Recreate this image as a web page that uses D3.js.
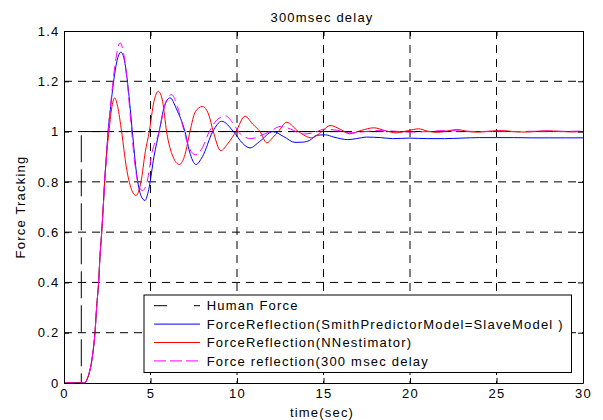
<!DOCTYPE html>
<meta charset="utf-8">
<style>
body { margin: 0; background: #fff; }
svg text {
  font-family: "Liberation Sans", Arial, sans-serif;
  font-size: 13px;
  letter-spacing: 1.2px;
  fill: #000;
}
.axis path, .axis line { stroke: #000; fill: none; }
.grid line { stroke: #000; stroke-dasharray: 8,6; }
</style>
<body>
<script src="https://cdn.jsdelivr.net/npm/d3@7"></script>
<script>

// tick labels
var xTicks = [0, 5, 10, 15, 20, 25, 30];
var yTicks = [0, 0.2, 0.4, 0.6, 0.8, 1, 1.2, 1.4];
var yTickLabels = ["0", "0.2", "0.4", "0.6", "0.8", "1", "1.2", "1.4"];

var seriesNames = ["Human Force",
  "ForceReflection(SmithPredictorModel=SlaveModel )",
  "ForceReflection(NNestimator)",
  "Force reflection(300 msec delay"];

// Human Force (step at 1 s)
var humanT = [0, 1, 1, 30];
var humanF = [0, 0, 1, 1];

// ForceReflection(SmithPredictorModel=SlaveModel)
var smithT = [0, 1.2, 1.3, 1.45, 1.64, 1.79, 1.89, 2.0, 2.08, 2.18, 2.27, 2.35, 2.45, 2.55,
  2.7, 2.85, 3.0, 3.29, 3.5, 3.7, 3.95, 4.2, 4.45, 4.68, 4.9, 5.2, 5.5, 5.8, 6.13,
  6.5, 6.99, 7.3, 7.63, 8.0, 8.6, 9.11, 9.8, 10.3, 10.75, 11.3, 12.08, 12.7, 13.35,
  13.8, 14.2, 14.6, 15.1, 15.6, 16.4, 16.9, 17.5, 18.3, 19.0, 20, 21, 22, 23, 24,
  25, 26, 27, 28, 29, 30];
var smithF = [0, 0, 0.01, 0.038, 0.105, 0.2, 0.304, 0.4, 0.503, 0.6, 0.702, 0.802, 0.9, 1.0,
  1.1, 1.19, 1.26, 1.316, 1.28, 1.18, 1.0, 0.83, 0.745, 0.726, 0.77, 0.9, 1.0, 1.1, 1.134,
  1.09, 1.0, 0.91, 0.869, 0.9, 1.0, 1.041, 1.0, 0.955, 0.935, 0.96, 1.0, 0.98, 0.957,
  0.958, 0.965, 0.985, 0.987, 0.978, 0.968, 0.972, 0.978, 0.976, 0.972, 0.974, 0.972, 0.972, 0.974, 0.976,
  0.976, 0.976, 0.975, 0.975, 0.975, 0.975];

// ForceReflection(NNestimator)
var nnT = [0, 1.2, 1.3, 1.45, 1.64, 1.79, 1.89, 2.0, 2.08, 2.18, 2.27, 2.35, 2.45, 2.6,
  2.75, 2.93, 3.1, 3.33, 3.6, 3.9, 4.16, 4.45, 4.7, 4.93, 5.2, 5.45, 5.7, 5.93, 6.3,
  6.67, 7.0, 7.28, 7.6, 8.0, 8.35, 8.63, 9.06, 9.5, 9.94, 10.46, 10.9, 11.33, 11.72,
  12.05, 12.39, 12.87, 13.55, 14.32, 14.9, 15.38, 16.0, 16.5, 17.2, 17.9, 18.6, 19.2,
  19.9, 20.5, 21.0, 21.6, 22.2, 22.7, 23.4, 24.0, 24.7, 25.3, 26.0, 26.6, 27.3, 28.0,
  28.8, 29.4, 30];
var nnF = [0, 0, 0.01, 0.038, 0.105, 0.2, 0.304, 0.4, 0.503, 0.6, 0.702, 0.802, 0.9, 1.0,
  1.09, 1.134, 1.10, 1.0, 0.86, 0.77, 0.746, 0.80, 0.92, 1.0, 1.12, 1.16, 1.12, 1.0, 0.9,
  0.869, 0.91, 1.0, 1.08, 1.10, 1.07, 1.0, 0.924, 0.955, 1.0, 1.061, 1.03, 1.0, 0.955,
  0.975, 1.0, 1.037, 1.0, 0.975, 1.0, 1.024, 1.008, 0.991, 1.005, 1.015, 1.003, 0.995,
  1.004, 1.011, 1.002, 0.997, 1.003, 1.008, 1.0, 0.998, 1.002, 1.004, 1.0, 0.998, 1.001, 1.003,
  1.0, 0.999, 1.0];

// Force reflection (300 msec delay)
var delayT = [0, 1.2, 1.3, 1.45, 1.64, 1.79, 1.89, 2.0, 2.08, 2.18, 2.27, 2.35, 2.45, 2.55,
  2.7, 2.85, 3.0, 3.24, 3.45, 3.65, 3.85, 4.05, 4.3, 4.55, 4.8, 5.1, 5.5, 5.85, 6.22,
  6.55, 6.95, 7.2, 7.6, 7.95, 8.4, 8.9, 9.35, 9.8, 10.2, 10.8, 11.4, 11.9, 12.5, 13.1,
  13.8, 14.4, 15.1, 15.8, 16.6, 17.4, 18.2, 19, 20, 21, 22, 23, 24, 25, 26, 27, 28, 29, 30];
var delayF = [0, 0, 0.01, 0.038, 0.105, 0.2, 0.304, 0.4, 0.503, 0.6, 0.702, 0.802, 0.9, 1.0,
  1.11, 1.21, 1.29, 1.353, 1.31, 1.2, 1.05, 0.9, 0.79, 0.765, 0.8, 0.92, 1.0, 1.11, 1.147,
  1.1, 1.0, 0.94, 0.908, 0.93, 1.0, 1.05, 1.062, 1.03, 0.99, 0.972, 0.985, 1.0, 1.02, 1.01,
  0.99, 0.995, 1.01, 1.005, 0.995, 1.0, 1.004, 1.002, 0.998, 1.0, 1.004, 1.002, 1.0, 1.002, 1.0, 1.001, 1.002, 1.001, 1.002];

function zip(ts, vs) {
  return ts.map(function(t, i) { return {t: t, v: vs[i]}; });
}

var series = [
  {name: seriesNames[0], data: zip(humanT, humanF), color: "#000", dash: "27,7", keyDash: "13,27", curve: d3.curveLinear},
  {name: seriesNames[1], data: zip(smithT, smithF), color: "#0000ff", dash: null, keyDash: null, curve: d3.curveMonotoneX},
  {name: seriesNames[2], data: zip(nnT, nnF), color: "#ff0000", dash: null, keyDash: null, curve: d3.curveMonotoneX},
  {name: seriesNames[3], data: zip(delayT, delayF), color: "#ff00ff", dash: "10,5", keyDash: "12,4", curve: d3.curveMonotoneX}
];

var margin = {top: 31, right: 20, bottom: 37, left: 64},
    width = 603 - margin.left - margin.right,
    height = 420 - margin.top - margin.bottom;

var x = d3.scaleLinear().domain([0, 30]).range([0, width]);
var y = d3.scaleLinear().domain([0, 1.4]).range([height, 0]);

var svg = d3.select("body").append("svg")
    .attr("width", 603)
    .attr("height", 420)
  .append("g")
    .attr("transform", "translate(" + margin.left + "," + margin.top + ")");

// grid
var grid = svg.append("g").attr("class", "grid");
grid.selectAll(".gx")
    .data(xTicks.slice(1, -1))
  .enter().append("line")
    .attr("x1", function(d) { return x(d); })
    .attr("x2", function(d) { return x(d); })
    .attr("y1", 0)
    .attr("y2", height);
grid.selectAll(".gy")
    .data(yTicks.slice(1, -1))
  .enter().append("line")
    .attr("x1", 0)
    .attr("x2", width)
    .attr("y1", function(d) { return y(d); })
    .attr("y2", function(d) { return y(d); });

// curves
series.forEach(function(s) {
  var line = d3.line()
      .x(function(d) { return x(d.t); })
      .y(function(d) { return y(d.v); })
      .curve(s.curve);
  svg.append("path")
      .datum(s.data)
      .attr("fill", "none")
      .attr("stroke", s.color)
      .attr("stroke-width", 1)
      .attr("stroke-dasharray", s.dash)
      .attr("d", line);
});

// axes, ticks pointing inward on all sides
svg.append("g")
    .attr("class", "axis")
    .attr("transform", "translate(0," + height + ")")
    .call(d3.axisBottom(x).tickValues(xTicks).tickSizeInner(-5).tickSizeOuter(0).tickPadding(6));
svg.append("g")
    .attr("class", "axis")
    .call(d3.axisTop(x).tickValues(xTicks).tickSizeInner(-5).tickSizeOuter(0).tickFormat(""));
svg.append("g")
    .attr("class", "axis")
    .call(d3.axisLeft(y).tickValues(yTicks).tickSizeInner(-5).tickSizeOuter(0).tickPadding(4.5)
      .tickFormat(function(d, i) { return yTickLabels[i]; }));
svg.append("g")
    .attr("class", "axis")
    .attr("transform", "translate(" + width + ",0)")
    .call(d3.axisRight(y).tickValues(yTicks).tickSizeInner(-5).tickSizeOuter(0).tickFormat(""));

svg.selectAll(".axis text")
    .attr("font-family", null)
    .attr("font-size", null);

// title and axis labels
svg.append("text")
    .attr("x", 322 - margin.left)
    .attr("y", 22 - margin.top)
    .attr("text-anchor", "middle")
    .text("300msec delay");

svg.append("text")
    .attr("x", 322 - margin.left)
    .attr("y", 416.5 - margin.top)
    .attr("text-anchor", "middle")
    .text("time(sec)");

svg.append("text")
    .attr("transform", "translate(" + (25 - margin.left) + "," + (207 - margin.top) + ") rotate(-90)")
    .attr("text-anchor", "middle")
    .text("Force Tracking");

// legend
var legend = svg.append("g")
    .attr("transform", "translate(" + (144 - margin.left) + "," + (295 - margin.top) + ")");
legend.append("rect")
    .attr("width", 427.5)
    .attr("height", 77.5)
    .attr("fill", "#fff")
    .attr("stroke", "#000");

var rows = legend.selectAll(".row")
    .data(series)
  .enter().append("g")
    .attr("class", "row")
    .attr("transform", function(d, i) { return "translate(0," + (10.7 + i * 18.4) + ")"; });
rows.append("line")
    .attr("x1", 10)
    .attr("x2", 56)
    .attr("stroke", function(d) { return d.color; })
    .attr("stroke-dasharray", function(d) { return d.keyDash; });
rows.append("text")
    .attr("x", 62.7)
    .attr("y", 4.6)
    .text(function(d) { return d.name; });

</script>
</body>
